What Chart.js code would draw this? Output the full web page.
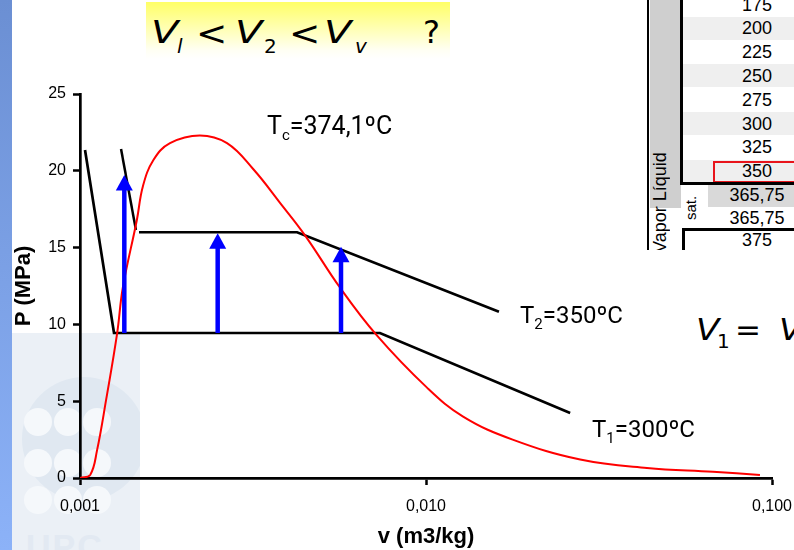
<!DOCTYPE html>
<html>
<head>
<meta charset="utf-8">
<script src="https://cdn.jsdelivr.net/npm/chart.js@4.4.0/dist/chart.umd.min.js"></script>
<style>
  body { margin: 0; width: 794px; height: 550px; overflow: hidden; position: relative; background: #fff; font-family: 'Liberation Sans', Arial, sans-serif; }
  .abs { position: absolute; }
  .franja { left: 0; top: 0; width: 12px; height: 550px; background: linear-gradient(#6b8fd3, #8cb2f8); }
  .marca { left: 12px; top: 333px; width: 128px; height: 217px; background: #ebf0f6; overflow: hidden; }
  .marca .anillo { left: 10px; top: 44px; width: 124px; height: 124px; border-radius: 50%; background: #e0e8f1; }
  .marca .bola { width: 28px; height: 28px; border-radius: 50%; background: #f5f8fb; }
  .marca .upc { left: 14px; top: 194px; font: bold 34px 'Liberation Sans', Arial, sans-serif; color: #e2e9f2; letter-spacing: 2px; }
  .caja { left: 146px; top: 2px; width: 304px; height: 57px; background: linear-gradient(#ffff66, #fffff4 85%, #fff); }
  .f { font-family: 'DejaVu Sans', sans-serif; line-height: 1; white-space: nowrap; color: #000; transform-origin: left center; }
  .lbl { font-family: Roboto, sans-serif; font-size: 24px; line-height: 1; white-space: nowrap; color: #000; }
  .lbl sub { font-size: 15px; vertical-align: -6px; line-height: 0; }
  .tabla { left: 640px; top: 0; width: 154px; height: 250px; overflow: hidden; }
  .tabla div { position: absolute; }
  .fila { left: 43px; width: 148px; height: 24px; line-height: 24px; text-align: center; font-size: 18px; }
  .columna { left: 650px; top: 0; width: 31px; height: 208px; background-color: #cfcfcf; }
  canvas { position: absolute; left: 0; top: 0; }
</style>
</head>
<body>
<div class="abs franja"></div>
<div class="abs marca">
  <div class="abs anillo"></div>
  <div class="abs bola" style="left:12px;top:75px"></div>
  <div class="abs bola" style="left:42px;top:75px"></div>
  <div class="abs bola" style="left:71px;top:75px"></div>
  <div class="abs bola" style="left:12px;top:116px"></div>
  <div class="abs bola" style="left:42px;top:116px"></div>
  <div class="abs bola" style="left:71px;top:116px"></div>
  <div class="abs bola" style="left:12px;top:153px"></div>
  <div class="abs bola" style="left:42px;top:153px"></div>
  <div class="abs bola" style="left:71px;top:153px"></div>
  <div class="abs upc">UPC</div>
</div>

<div class="abs caja"></div>
<span class="abs f" style="left:151px;top:16px;font-size:32px;font-style:italic;transform:scaleX(1.25)">V</span>
<span class="abs f" style="left:177px;top:36px;font-size:20px;font-style:italic">l</span>
<span class="abs f" style="left:196px;top:16px;font-size:34px;transform:scaleX(1.1)">&lt;</span>
<span class="abs f" style="left:235px;top:16px;font-size:32px;font-style:italic;transform:scaleX(1.25)">V</span>
<span class="abs f" style="left:264px;top:36px;font-size:20px">2</span>
<span class="abs f" style="left:289px;top:16px;font-size:34px;transform:scaleX(1.1)">&lt;</span>
<span class="abs f" style="left:324px;top:16px;font-size:32px;font-style:italic;transform:scaleX(1.25)">V</span>
<span class="abs f" style="left:355px;top:36px;font-size:20px;font-style:italic">v</span>
<span class="abs f" style="left:423px;top:16px;font-size:32px">?</span>

<div class="abs columna"></div>
<div class="abs tabla">
  <div style="left:7px;top:0;width:2px;height:250px;background:#000"></div>
  <div style="left:42px;top:17px;width:112px;height:23px;background:#efefef"></div>
  <div style="left:42px;top:64px;width:112px;height:23px;background:#efefef"></div>
  <div style="left:42px;top:112px;width:112px;height:23px;background:#efefef"></div>
  <div style="left:42px;top:160px;width:112px;height:23px;background:#efefef"></div>
  <div style="left:68px;top:183px;width:86px;height:24px;background:#d9d9d9"></div>
  <div class="fila" style="top:-7px">175</div>
  <div class="fila" style="top:16px">200</div>
  <div class="fila" style="top:40px">225</div>
  <div class="fila" style="top:64px">250</div>
  <div class="fila" style="top:88px">275</div>
  <div class="fila" style="top:112px">300</div>
  <div class="fila" style="top:135px">325</div>
  <div class="fila" style="top:159px">350</div>
  <div class="fila" style="top:183px">365,75</div>
  <div class="fila" style="top:206px">365,75</div>
  <div class="fila" style="top:228px">375</div>
  <div style="left:73px;top:161px;width:100px;height:22px;border:2.5px solid #e8141b;box-sizing:border-box"></div>
  <div style="left:40px;top:0;width:3px;height:184px;background:#000"></div>
  <div style="left:40px;top:182px;width:114px;height:3px;background:#000"></div>
  <div style="left:42px;top:228px;width:112px;height:3px;background:#000"></div>
  <div style="left:42px;top:228px;width:2.5px;height:30px;background:#000"></div>
  <div style="left:9px;top:143px;width:22px;height:110px;writing-mode:vertical-rl;transform:rotate(180deg);font-size:18px;line-height:22px;white-space:nowrap">Vapor Líquid</div>
  <div style="left:41px;top:186px;width:20px;height:44px;writing-mode:vertical-rl;transform:rotate(180deg);font-size:15px;line-height:20px;white-space:nowrap;text-align:center">sat.</div>
</div>

<span class="abs f" style="left:696px;top:314px;font-size:31px;font-style:italic;transform:scaleX(1.1)">V</span>
<span class="abs f" style="left:717px;top:331px;font-size:20px">1</span>
<span class="abs f" style="left:735px;top:314px;font-size:31px">=</span>
<span class="abs f" style="left:779px;top:314px;font-size:31px;font-style:italic;transform:scaleX(1.1)">V</span>

<canvas id="grafico" width="794" height="550"></canvas>

<div class="abs lbl" style="left:267px;top:113px;font-size:25px">T<sub>c</sub>=374,1ºC</div>
<div class="abs lbl" style="left:520px;top:303px">T<sub>2</sub>=350ºC</div>
<div class="abs lbl" style="left:592px;top:417px">T<sub>1</sub>=300ºC</div>

<script>
// campana de saturación (v en m3/kg, P en MPa)
const campanaV = [0.001, 0.00107, 0.00112, 0.00119, 0.00128, 0.00133, 0.00146, 0.00152, 0.00163, 0.00182, 0.00222, 0.00266, 0.00317, 0.00379, 0.00447, 0.00564, 0.0072, 0.01005, 0.0128, 0.0178, 0.0279, 0.0435, 0.0675, 0.0923];
const campanaP = [0, 0.2, 1.8, 5.1, 9.4, 12.4, 16.8, 19.0, 20.7, 21.8, 22.3, 21.8, 20.1, 17.9, 15.8, 12.4, 9.3, 5.9, 4.0, 2.5, 1.2, 0.65, 0.4, 0.2];

// isoterma T1 = 300 ºC
const t1V = [0.001034, 0.001254, 0.00736, 0.0261];
const t1P = [21.35, 9.44, 9.44, 4.23];

// isoterma T2 = 350 ºC (tramo líquido y resto)
const t2LiqV = [0.001314, 0.001451];
const t2LiqP = [21.42, 16.15];
const t2V = [0.001481, 0.00424, 0.01625];
const t2P = [16.0, 16.0, 10.83];

// flechas azules
const flechaV = [0.001343, 0.0025, 0.00568];
const flechaDesde = [9.44, 9.44, 9.44];
const flechaHasta = [19.73, 15.93, 15.06];

const ticksV = [0.001, 0.01, 0.1];
const ticksP = [0, 5, 10, 15, 20, 25];

const puntos = (xs, ys) => xs.map((x, i) => ({ x, y: ys[i] }));

const flechasPlugin = {
    id: 'flechas',
    afterDatasetsDraw(chart) {
        const ctx = chart.ctx;
        chart.data.datasets.forEach((ds, i) => {
            if (!ds.flecha) return;
            const pts = chart.getDatasetMeta(i).data;
            const base = pts[0], punta = pts[1];
            ctx.save();
            ctx.strokeStyle = ds.borderColor;
            ctx.fillStyle = ds.borderColor;
            ctx.lineWidth = 4.5;
            ctx.beginPath();
            ctx.moveTo(base.x, base.y);
            ctx.lineTo(punta.x, punta.y + 14);
            ctx.stroke();
            ctx.beginPath();
            ctx.moveTo(punta.x, punta.y);
            ctx.lineTo(punta.x - 8.5, punta.y + 15.5);
            ctx.lineTo(punta.x + 8.5, punta.y + 15.5);
            ctx.closePath();
            ctx.fill();
            ctx.restore();
        });
    }
};

const linea = (data, color, ancho) => ({
    data, showLine: true, borderColor: color, borderWidth: ancho,
    pointRadius: 0, tension: 0, fill: false
});

const datasets = [
    Object.assign(linea(puntos(campanaV, campanaP), '#ff0000', 2), { tension: 0.4 }),
    linea(puntos(t1V, t1P), '#000', 2.7),
    linea(puntos(t2LiqV, t2LiqP), '#000', 2.5),
    linea(puntos(t2V, t2P), '#000', 2.7)
];
flechaV.forEach((v, i) => {
    datasets.push({
        data: [{ x: v, y: flechaDesde[i] }, { x: v, y: flechaHasta[i] }],
        flecha: true, showLine: false, pointRadius: 0, borderColor: '#0000ff'
    });
});

const fuenteTicks = { family: "'Liberation Sans', Arial, sans-serif", size: 16 };
const fuenteTitulo = { family: "'Liberation Sans', Arial, sans-serif", size: 22, weight: 'bold' };

new Chart(document.getElementById('grafico'), {
    type: 'scatter',
    data: { datasets },
    options: {
        responsive: false,
        animation: false,
        layout: { padding: { top: 94, right: 22, bottom: 0, left: 0 } },
        plugins: { legend: { display: false }, tooltip: { enabled: false } },
        scales: {
            x: {
                type: 'logarithmic',
                min: 0.001,
                max: 0.1,
                afterBuildTicks: ax => { ax.ticks = ticksV.map(v => ({ value: v })); },
                afterFit: ax => { ax.height = 72; ax.paddingLeft = 0; ax.paddingRight = 0; },
                ticks: {
                    color: '#000', font: fuenteTicks, padding: 12, maxRotation: 0,
                    callback: v => v.toFixed(3).replace('.', ',')
                },
                grid: { display: true, drawOnChartArea: false, tickLength: 7, tickWidth: 2.5, tickColor: '#000' },
                border: { display: true, color: '#000', width: 2.7 },
                title: { display: true, text: 'v (m3/kg)', color: '#000', font: fuenteTitulo, padding: { top: 0, bottom: 0 } }
            },
            y: {
                min: 0,
                max: 25,
                afterBuildTicks: ax => { ax.ticks = ticksP.map(v => ({ value: v })); },
                afterFit: ax => { ax.width = 80; },
                ticks: { color: '#000', font: fuenteTicks, padding: 7 },
                grid: { display: true, drawOnChartArea: false, tickLength: 7, tickWidth: 2.5, tickColor: '#000' },
                border: { display: true, color: '#000', width: 2.7 },
                title: { display: true, text: 'P (MPa)', color: '#000', font: fuenteTitulo, padding: { top: 11, bottom: 0 } }
            }
        }
    },
    plugins: [flechasPlugin]
});
</script>
</body>
</html>
